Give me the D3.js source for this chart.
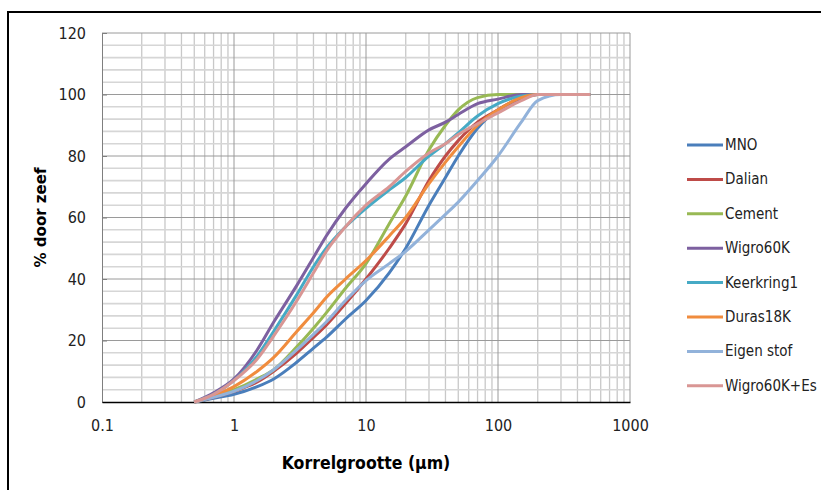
<!DOCTYPE html>
<html>
<head>
<meta charset="utf-8">
<script src="https://cdn.jsdelivr.net/npm/d3@7"></script>
<style>
  body { margin: 0; background: #fff; }
  #chart { width: 821px; height: 490px; }
</style>
</head>
<body>
<div id="chart"></div>
<script>
// sieve sizes (µm)
var sizes = [0.5, 0.7, 1, 1.5, 2, 3, 4, 5, 7, 10, 15, 20, 30, 40, 50, 70, 100, 150, 200, 300, 500];

var mno       = [0, 1.2, 2.5, 5, 7.5, 13, 17.5, 21, 27, 33, 42, 50, 64, 73, 80, 89, 95, 98.5, 100, 100, 100];
var dalian    = [0, 1.5, 3.5, 6.5, 10, 16, 21, 25, 32, 40, 50, 58, 72, 80, 85, 91, 95, 99, 100, 100, 100];
var cement    = [0, 1.8, 4, 7.5, 10.5, 18, 24, 29, 37, 45, 58, 67, 82, 90, 95, 99, 100, 100, 100, 100, 100];
var wigro60k  = [0, 3, 7.5, 17, 26, 38, 47, 54, 63, 71, 79, 83, 88.5, 91, 93.5, 97, 98.5, 100, 100, 100, 100];
var keerkring = [0, 2.5, 7, 15, 23, 35, 44, 50, 57, 63, 69, 73, 80, 84, 87.5, 93, 97, 99.5, 100, 100, 100];
var duras18k  = [0, 2, 5, 10, 14.5, 23, 29, 34, 40, 46, 54, 60, 71, 78, 83, 90, 95, 99, 100, 100, 100];
var eigenStof = [0, 1.5, 3.5, 7, 10.5, 17, 22, 26, 33, 39.5, 45, 49, 56, 61, 65, 72, 80, 91, 98, 100, 100];
var wigroEs   = [0, 2.5, 7, 14, 21.5, 33, 42, 49, 57, 64, 70, 75, 81, 84, 87, 90.5, 94, 98, 100, 100, 100];

var seriesNames  = ['MNO', 'Dalian', 'Cement', 'Wigro60K', 'Keerkring1', 'Duras18K', 'Eigen stof', 'Wigro60K+Es'];
var seriesValues = [mno, dalian, cement, wigro60k, keerkring, duras18k, eigenStof, wigroEs];
var seriesColors = ['#4A7EBB', '#BE4B48', '#98B954', '#7D60A0', '#46AAC5', '#F08C3E', '#92B2DA', '#D99694'];

var xTicks = [0.1, 1, 10, 100, 1000];
var xTickLabels = ['0.1', '1', '10', '100', '1000'];
var yTicks = [0, 20, 40, 60, 80, 100, 120];

var narrow = '"Liberation Sans Narrow", "DejaVu Sans Condensed", sans-serif';

var svg = d3.select('#chart').append('svg')
    .attr('width', 821)
    .attr('height', 490);

// outer frame (cut off at right and bottom)
svg.append('rect')
    .attr('x', 8).attr('y', 12)
    .attr('width', 840).attr('height', 520)
    .attr('fill', 'none')
    .attr('stroke', '#000')
    .attr('stroke-width', 2);

var x = d3.scaleLog().domain([0.1, 1000]).range([102, 630]);
var y = d3.scaleLinear().domain([0, 120]).range([402, 33]);

var grid = svg.append('g');

// minor vertical grid
var minorX = [];
[0.1, 1, 10, 100].forEach(function (d) {
  for (var k = 2; k <= 9; k++) minorX.push(d * k);
});
grid.selectAll('line.vminor')
    .data(minorX)
    .enter()
  .append('line')
    .attr('class', 'vminor')
    .attr('x1', function (d) { return x(d); })
    .attr('x2', function (d) { return x(d); })
    .attr('y1', y(0)).attr('y2', y(120))
    .attr('stroke', '#c8c8c8')
    .attr('stroke-width', 1.3);

// minor horizontal grid
grid.selectAll('line.hminor')
    .data(d3.range(4, 120, 4).filter(function (d) { return d % 20 !== 0; }))
    .enter()
  .append('line')
    .attr('class', 'hminor')
    .attr('x1', x(0.1)).attr('x2', x(1000))
    .attr('y1', function (d) { return y(d); })
    .attr('y2', function (d) { return y(d); })
    .attr('stroke', '#d6d6d6')
    .attr('stroke-width', 1.6);

// major grid
grid.selectAll('line.vmajor')
    .data(xTicks.slice(1))
    .enter()
  .append('line')
    .attr('x1', function (d) { return x(d); })
    .attr('x2', function (d) { return x(d); })
    .attr('y1', y(0)).attr('y2', y(120))
    .attr('stroke', '#9a9a9a')
    .attr('stroke-width', 1);

grid.selectAll('line.hmajor')
    .data(yTicks.slice(1))
    .enter()
  .append('line')
    .attr('x1', x(0.1)).attr('x2', x(1000))
    .attr('y1', function (d) { return y(d); })
    .attr('y2', function (d) { return y(d); })
    .attr('stroke', '#9a9a9a')
    .attr('stroke-width', 1);

// Axes
var yAxis = svg.append('g')
    .attr('transform', 'translate(' + x(0.1) + ',0)')
    .call(d3.axisLeft(y).tickValues(yTicks).tickSizeInner(-5).tickSizeOuter(0).tickPadding(16));
yAxis.select('.domain').attr('stroke', '#7f7f7f');
yAxis.selectAll('.tick line').attr('stroke', '#7f7f7f');
yAxis.selectAll('text')
    .attr('font-family', narrow)
    .attr('font-size', 16)
    .attr('fill', '#222');

var xAxis = svg.append('g')
    .attr('transform', 'translate(0,' + y(0) + ')')
    .call(d3.axisBottom(x).tickValues(xTicks)
      .tickFormat(function (d, i) { return xTickLabels[i]; })
      .tickSize(0).tickPadding(18));
xAxis.select('.domain').attr('stroke', '#000').attr('stroke-width', 1.5);
xAxis.selectAll('text')
    .attr('font-family', narrow)
    .attr('font-size', 16)
    .attr('fill', '#222');

// axis titles
svg.append('text')
    .attr('transform', 'translate(46,' + y(60) + ') rotate(-90)')
    .attr('text-anchor', 'middle')
    .attr('font-family', '"DejaVu Sans", Verdana, sans-serif')
    .attr('font-weight', 'bold')
    .attr('font-size', 15)
    .text('% door zeef');

svg.append('text')
    .attr('x', x(10))
    .attr('y', 469)
    .attr('text-anchor', 'middle')
    .attr('font-family', narrow)
    .attr('font-weight', 'bold')
    .attr('font-size', 17.5)
    .text('Korrelgrootte (µm)');

// curves
var line = d3.line()
    .x(function (d) { return x(d[0]); })
    .y(function (d) { return y(d[1]); })
    .curve(d3.curveMonotoneX);

var plot = svg.append('g');
plot.selectAll('path')
    .data(seriesValues)
    .enter()
  .append('path')
    .attr('d', function (vals) {
      return line(vals.map(function (v, i) { return [sizes[i], v]; }));
    })
    .attr('fill', 'none')
    .attr('stroke', function (d, i) { return seriesColors[i]; })
    .attr('stroke-width', 3)
    .attr('stroke-linejoin', 'round');

// legend
var legend = svg.append('g')
    .attr('transform', 'translate(687,145)');

var item = legend.selectAll('g')
    .data(seriesNames)
    .enter()
  .append('g')
    .attr('transform', function (d, i) { return 'translate(0,' + (i * 34.4) + ')'; });

item.append('line')
    .attr('x1', 0).attr('x2', 36)
    .attr('y1', 0).attr('y2', 0)
    .attr('stroke', function (d, i) { return seriesColors[i]; })
    .attr('stroke-width', 3);

item.append('text')
    .attr('x', 38)
    .attr('y', 5)
    .attr('font-family', narrow)
    .attr('font-size', 15)
    .attr('fill', '#222')
    .text(function (d) { return d; });
</script>
</body>
</html>
